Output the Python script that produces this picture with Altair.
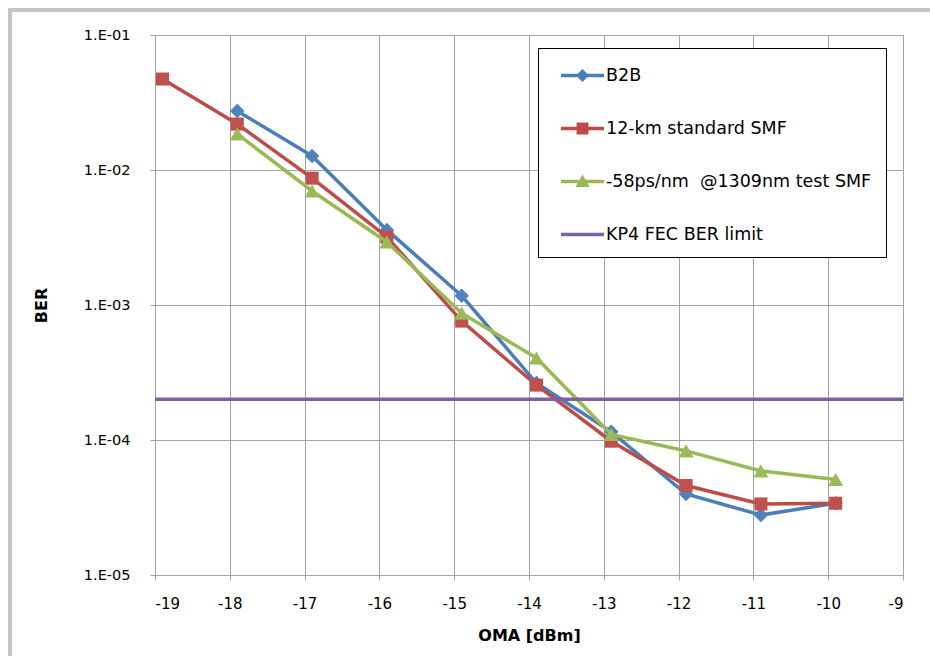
import altair as alt
import pandas as pd

# ---- data ----
x_oma = [-18.9, -17.9, -16.9, -15.9, -14.9, -13.9, -12.9, -11.9, -10.9, -9.9]
ber_b2b = [None, 2.74e-2, 1.27e-2, 3.6e-3, 1.17e-3, 2.64e-4, 1.15e-4, 3.98e-5, 2.78e-5, 3.4e-5]
ber_smf12 = [4.72e-2, 2.19e-2, 8.7e-3, 3.19e-3, 7.6e-4, 2.55e-4, 9.8e-5, 4.6e-5, 3.36e-5, 3.4e-5]
ber_test = [None, 1.85e-2, 6.99e-3, 2.93e-3, 8.7e-4, 4.05e-4, 1.1e-4, 8.3e-5, 5.9e-5, 5.1e-5]
fec_x = [-19, -9]
fec_y = [2e-4, 2e-4]

series_names = ["B2B", "12-km standard SMF", "-58ps/nm\u00a0 @1309nm test SMF", "KP4 FEC BER limit"]
line_colors = ["#4A7EBB", "#BE4B48", "#98B954", "#7D60A0"]
marker_colors = ["#4F81BD", "#C0504D", "#9BBB59", "#8064A2"]
marker_shapes = ["diamond", "square", "triangle-up"]
marker_sizes = [210, 170, 230]
x_ticks = list(range(-19, -8))
y_ticks = [1e-5, 1e-4, 1e-3, 1e-2, 1e-1]

rows = []
for name, vals in zip(series_names[:3], [ber_b2b, ber_smf12, ber_test]):
    for xv, yv in zip(x_oma, vals):
        if yv is not None:
            rows.append({"series": name, "x": xv, "ber": yv})
df = pd.DataFrame(rows)
fec_df = pd.DataFrame({"series": series_names[3], "x": fec_x, "ber": fec_y})
legend_df = pd.DataFrame({"series": series_names})

FONT = "DejaVu Sans"
GRID = "#A3A3A3"

x_enc = alt.X(
    "x:Q",
    scale=alt.Scale(domain=[-19, -9], nice=False, zero=False),
    axis=alt.Axis(values=x_ticks, title="OMA [dBm]", labelExpr="'' + datum.value",
                  labelPadding=16, titlePadding=16),
)
y_enc = alt.Y(
    "ber:Q",
    scale=alt.Scale(type="log", domain=[1e-5, 1e-1], nice=False),
    axis=alt.Axis(
        values=y_ticks,
        title="BER",
        labelExpr="'1.E-' + format(-round(log(datum.value)/LN10), '02d')",
        labelPadding=20,
        titlePadding=34,
        labelFontSize=14.5,
    ),
)

# custom legend symbols: line segment + marker (units: half symbol box)
a, b, c = -0.33, 2.85, 1.26
line_p = f"M{a},-0.13H{b}V0.13H{a}Z"
legend_paths = [
    line_p + f"M{c},-0.48L{c+0.48},0L{c},0.48L{c-0.48},0Z",
    line_p + f"M{c-0.44},-0.44H{c+0.44}V0.44H{c-0.44}Z",
    line_p + f"M{c},-0.52L{c+0.52},0.4L{c-0.52},0.4Z",
    line_p,
]

layers = []
for i, name in enumerate(series_names[:3]):
    base = alt.Chart(df).transform_filter(alt.datum.series == name)
    layers.append(
        base.mark_line(color=line_colors[i], strokeWidth=3.5).encode(x=x_enc, y=y_enc)
    )
    layers.append(
        base.mark_point(
            shape=marker_shapes[i], filled=True, color=marker_colors[i], opacity=1,
            size=marker_sizes[i],
        ).encode(x=x_enc, y=y_enc)
    )

layers.append(
    alt.Chart(fec_df).mark_line(color=line_colors[3], strokeWidth=3.5).encode(x=x_enc, y=y_enc)
)

legend_layer = (
    alt.Chart(legend_df)
    .transform_filter("false")
    .mark_point(filled=True, opacity=1, size=729, strokeWidth=0)
    .encode(
        color=alt.Color(
            "series:N",
            scale=alt.Scale(domain=series_names, range=line_colors),
            legend=alt.Legend(
                title=None,
                orient="none",
                legendX=383,
                legendY=13,
                padding=14,
                strokeColor="#000000",
                fillColor="#FFFFFF",
                labelFont=FONT,
                labelFontSize=17.5,
                labelColor="#000000",
                labelLimit=500,
                rowPadding=31,
                labelOffset=27,
                symbolStrokeWidth=0,
                symbolSize=729,
                symbolOpacity=1,
            ),
        ),
        shape=alt.Shape(
            "series:N",
            scale=alt.Scale(domain=series_names, range=legend_paths),
        ),
    )
)
layers.append(legend_layer)

frame = alt.Chart(legend_df).mark_rect(
    fill=None, stroke="#C4C4C4", strokeWidth=3, clip=False
).encode(
    x=alt.value(-145), x2=alt.value(900), y=alt.value(-25), y2=alt.value(700)
)

chart = (
    alt.layer(frame, *layers)
    .properties(
        width=748,
        height=540,
        autosize=alt.AutoSizeParams(type="none"),
        padding={"left": 155, "top": 35, "right": 27, "bottom": 81},
        background="white",
    )
    .configure_view(stroke=GRID, strokeWidth=1)
    .configure_axis(
        grid=True,
        gridColor=GRID,
        gridWidth=1,
        domainColor=GRID,
        domainWidth=1,
        tickColor=GRID,
        tickSize=5,
        labelFont=FONT,
        labelFontSize=15,
        labelColor="#000000",
        titleFont=FONT,
        titleFontSize=16,
        titleFontWeight="bold",
        titleColor="#000000",
    )
)

chart.save("out.html", embed_options={"renderer": "svg", "actions": False})
